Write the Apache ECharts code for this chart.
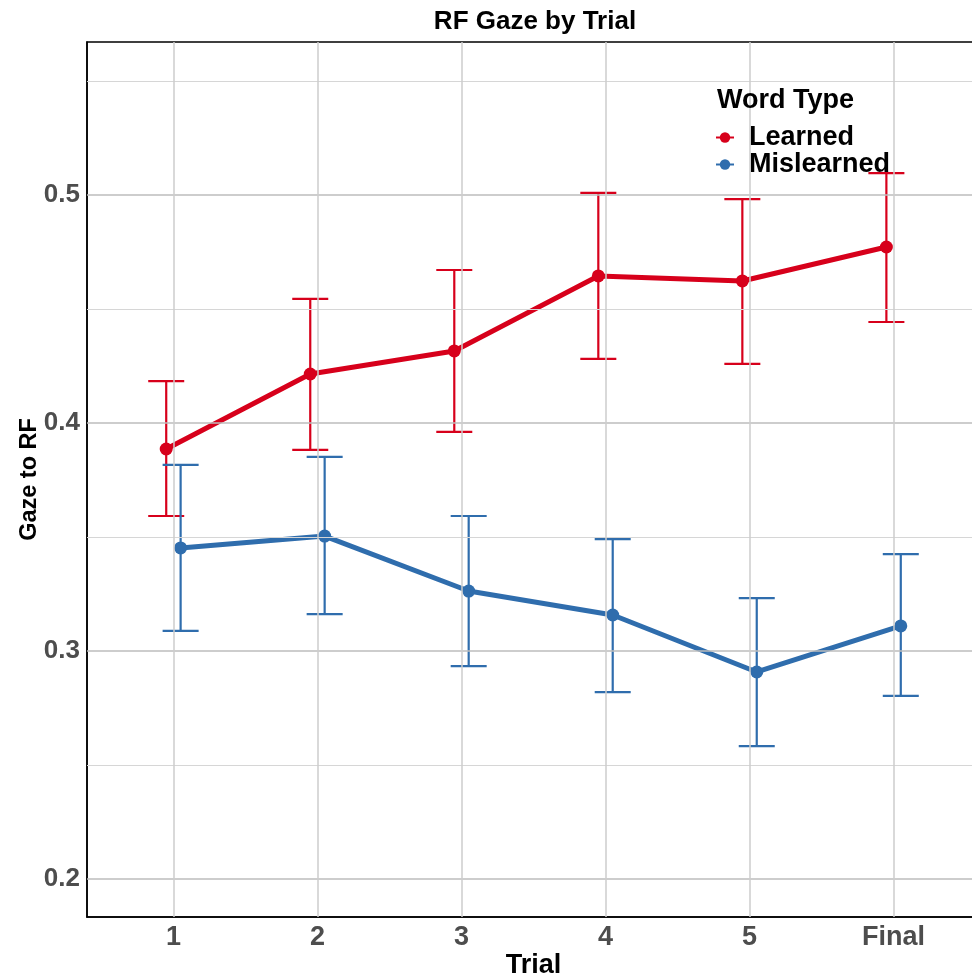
<!DOCTYPE html>
<html>
<head>
<meta charset="utf-8">
<script src="https://cdn.jsdelivr.net/npm/echarts@6/dist/echarts.min.js"></script>
<style>html,body{margin:0;padding:0;background:#fff}#c{width:972px;height:976px}</style>
</head>
<body>
<div id="c"></div>
<script>
const trials = ["1", "2", "3", "4", "5", "Final"];
const learnedMean = [0.3886, 0.4215, 0.4316, 0.4645, 0.4623, 0.4772];
const learnedLow  = [0.3592, 0.3882, 0.3961, 0.4281, 0.4259, 0.4443];
const learnedHigh = [0.4184, 0.4544, 0.4671, 0.5009, 0.4982, 0.5096];
const misMean = [0.3452, 0.3504, 0.3263, 0.3158, 0.2908, 0.3110];
const misLow  = [0.3088, 0.3162, 0.2934, 0.2820, 0.2583, 0.2803];
const misHigh = [0.3816, 0.3851, 0.3592, 0.3491, 0.3232, 0.3425];
const yMajor = [0.2, 0.3, 0.4, 0.5];
const yMinor = [0.25, 0.35, 0.45, 0.55];

const RED = '#D7001B', BLUE = '#2F6DAD';
const FONT = 'Liberation Sans, Arial, sans-serif';
const dodge = 0.05, cap = 0.125;
const xs = trials.map((t, i) => i + 1);

function errSeries(name, color, off, lo, hi) {
  return {
    name: name, type: 'custom', z: 3, silent: true,
    itemStyle: { color: color },
    data: xs.map((x, i) => [x + off, lo[i], hi[i]]),
    renderItem: function (params, api) {
      const x = api.value(0), l = api.value(1), h = api.value(2);
      const pT = api.coord([x, h]), pB = api.coord([x, l]);
      const cL = api.coord([x - cap, h])[0], cR = api.coord([x + cap, h])[0];
      const st = { stroke: color, lineWidth: 2.2 };
      return { type: 'group', children: [
        { type: 'line', shape: { x1: pT[0], y1: pT[1], x2: pB[0], y2: pB[1] }, style: st },
        { type: 'line', shape: { x1: cL, y1: pT[1], x2: cR, y2: pT[1] }, style: st },
        { type: 'line', shape: { x1: cL, y1: pB[1], x2: cR, y2: pB[1] }, style: st }
      ]};
    }
  };
}

const chart = echarts.init(document.getElementById('c'));
chart.setOption({
  animation: false,
  backgroundColor: '#fff',
  title: [
    { text: 'RF Gaze by Trial', left: 530, top: 4, textAlign: 'center',
      textStyle: { fontFamily: FONT, fontWeight: 'bold', fontSize: 26, color: '#000' } },
    { text: 'Word Type', left: 712, top: 82,
      textStyle: { fontFamily: FONT, fontWeight: 'bold', fontSize: 27, color: '#000' } }
  ],
  legend: {
    data: ['Learned', 'Mislearned'], orient: 'vertical', left: 715, top: 124,
    itemWidth: 18, itemHeight: 13, itemGap: 0, padding: 0,
    textStyle: { fontFamily: FONT, fontWeight: 'bold', fontSize: 27, color: '#000', lineHeight: 26, padding: [0, 0, 0, 10] }
  },
  grid: { left: 87, top: 42, width: 893, height: 875, show: true, borderColor: '#000', borderWidth: 1.5,
          containLabel: false, outerBoundsMode: 'none' },
  xAxis: {
    type: 'value', min: 0.4, max: 6.6,
    name: 'Trial', nameLocation: 'middle', nameGap: 35, nameMoveOverlap: false,
    nameTextStyle: { fontFamily: FONT, fontWeight: 'bold', fontSize: 27, color: '#000' },
    axisLine: { show: true, lineStyle: { color: '#000', width: 1.5 } },
    axisTick: { show: false },
    splitLine: { show: false },
    axisLabel: {
      customValues: xs, margin: 7,
      formatter: v => trials[Math.round(v) - 1] || '',
      fontFamily: FONT, fontWeight: 'bold', fontSize: 27, color: '#4d4d4d'
    }
  },
  yAxis: {
    type: 'value', min: 0.183333, max: 0.567105,
    name: 'Gaze to RF', nameLocation: 'middle', nameGap: 45, nameMoveOverlap: false,
    nameTextStyle: { fontFamily: FONT, fontWeight: 'bold', fontSize: 23.5, color: '#000' },
    axisLine: { show: true, lineStyle: { color: '#000', width: 1.5 } },
    axisTick: { show: false },
    splitLine: { show: false },
    axisLabel: {
      customValues: yMajor, margin: 7,
      formatter: v => String(Math.round(v * 10) / 10),
      fontFamily: FONT, fontWeight: 'bold', fontSize: 26, color: '#4d4d4d'
    }
  },
  series: [
    {
      name: 'grid', type: 'line', data: [[0.4, 0.3]], showSymbol: false, silent: true, z: 0,
      lineStyle: { opacity: 0 },
      markLine: {
        silent: true, symbol: 'none', label: { show: false }, animation: false,
        data: [].concat(
          yMinor.map(v => ({ yAxis: v, lineStyle: { color: '#d6d6d6', width: 1.2, type: 'solid' } })),
          yMajor.map(v => ({ yAxis: v, lineStyle: { color: '#bdbdbd', width: 1.5, type: 'solid' } })),
          xs.map(v => ({ xAxis: v, lineStyle: { color: '#cccccc', width: 1.5, type: 'solid' } }))
        )
      }
    },
    {
      name: 'Learned', type: 'line', z: 4,
      data: xs.map((x, i) => [x - dodge, learnedMean[i]]),
      symbol: 'circle', symbolSize: 13,
      lineStyle: { color: RED, width: 5 }, itemStyle: { color: RED }
    },
    {
      name: 'Mislearned', type: 'line', z: 4,
      data: xs.map((x, i) => [x + dodge, misMean[i]]),
      symbol: 'circle', symbolSize: 13,
      lineStyle: { color: BLUE, width: 5 }, itemStyle: { color: BLUE }
    },
    errSeries('Learned error', RED, -dodge, learnedLow, learnedHigh),
    errSeries('Mislearned error', BLUE, dodge, misLow, misHigh)
  ]
});
</script>
</body>
</html>
